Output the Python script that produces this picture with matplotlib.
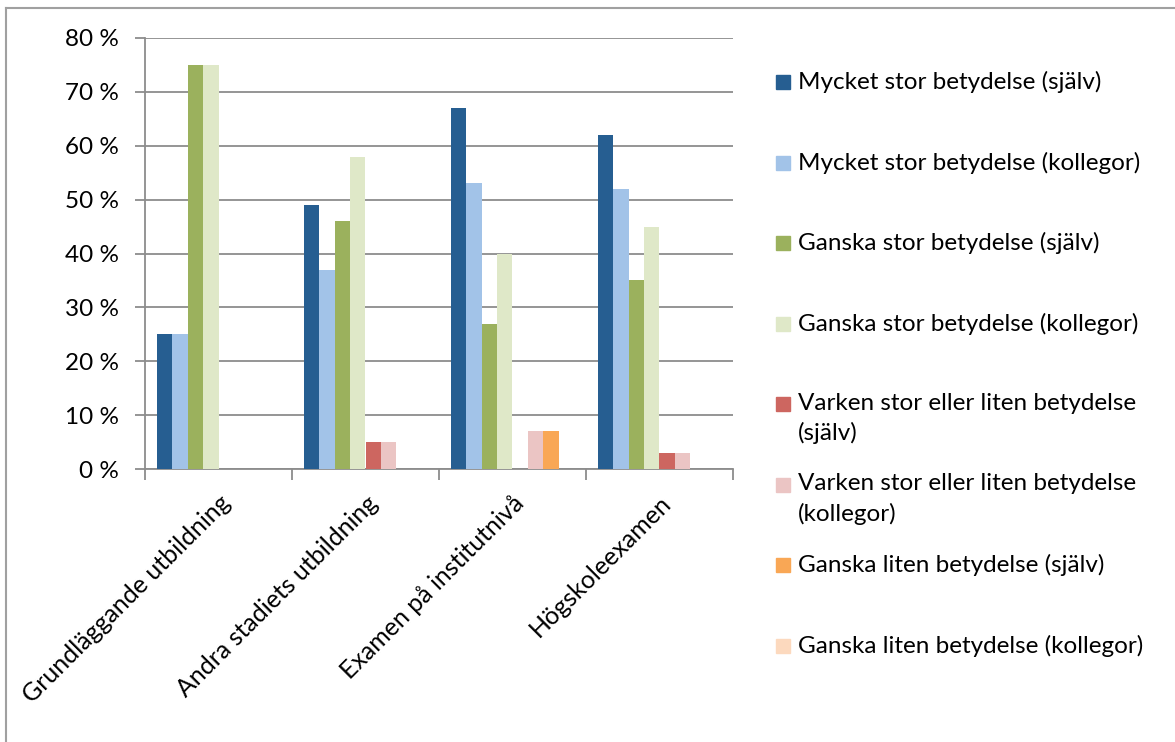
import numpy as np
import matplotlib
matplotlib.use('Agg')
import matplotlib.pyplot as plt
from matplotlib.patches import Rectangle
from matplotlib.lines import Line2D

plt.rcParams['font.family'] = ['Lato', 'DejaVu Sans']

categories = ['Grundläggande utbildning', 'Andra stadiets utbildning',
              'Examen på institutnivå', 'Högskoleexamen']

series_names = ['Mycket stor betydelse (själv)',
                'Mycket stor betydelse (kollegor)',
                'Ganska stor betydelse (själv)',
                'Ganska stor betydelse (kollegor)',
                'Varken stor eller liten betydelse\n(själv)',
                'Varken stor eller liten betydelse\n(kollegor)',
                'Ganska liten betydelse (själv)',
                'Ganska liten betydelse (kollegor)']

mycket_sjalv = [25, 49, 67, 62]
mycket_kollegor = [25, 37, 53, 52]
ganska_stor_sjalv = [75, 46, 27, 35]
ganska_stor_kollegor = [75, 58, 40, 45]
varken_sjalv = [0, 5, 0, 3]
varken_kollegor = [0, 5, 7, 3]
ganska_liten_sjalv = [0, 0, 7, 0]
ganska_liten_kollegor = [0, 0, 0, 0]

series = [mycket_sjalv, mycket_kollegor, ganska_stor_sjalv, ganska_stor_kollegor,
          varken_sjalv, varken_kollegor, ganska_liten_sjalv, ganska_liten_kollegor]

colors = ['#265E91', '#A2C3E8', '#9BB15D', '#DFE8C8',
          '#CD6660', '#EBC5C4', '#F9A755', '#FCD9BE']

W, H = 1175, 742
fs = 17.5
fig = plt.figure(figsize=(W / 100, H / 100), dpi=100)
ax = fig.add_axes([145 / W, (H - 469) / H, (733 - 145) / W, (469 - 38) / H])

grid_c = '#8C8C8C'
x = np.arange(len(categories))
bw = 0.105
start = -0.5 + 0.08
for k, (vals, col) in enumerate(zip(series, colors)):
    ax.bar(x + start + bw * (k + 0.5), vals, width=bw, color=col,
           edgecolor='none', zorder=3)

ax.set_xlim(-0.5, len(categories) - 0.5)
ax.set_ylim(0, 80)
ax.set_yticks(np.arange(0, 81, 10))
ax.set_yticklabels(['%d %%' % v for v in range(0, 81, 10)], fontsize=fs)
ax.yaxis.grid(True, color=grid_c, linewidth=1.3, zorder=0)
ax.tick_params(axis='y', length=7, width=1.3, color=grid_c, pad=12)

ax.set_xticks(x)
ax.set_xticklabels(categories, rotation=45, ha='right', va='top',
                   rotation_mode='anchor', fontsize=18)
ax.tick_params(axis='x', length=0, pad=16)
ax.set_xticks(np.arange(-0.5, len(categories), 1), minor=True)
ax.tick_params(axis='x', which='minor', length=8, width=1.3, color=grid_c)

for s in ['top', 'right']:
    ax.spines[s].set_visible(False)
for s in ['left', 'bottom']:
    ax.spines[s].set_color(grid_c)
    ax.spines[s].set_linewidth(1.3)

# legend, Excel style with even spacing
y0, step = 82, 80.5
for k, (name, col) in enumerate(zip(series_names, colors)):
    yc = y0 + step * k
    fig.patches.append(Rectangle((776 / W, 1 - (yc + 7) / H), 14 / W, 14 / H,
                                 transform=fig.transFigure, color=col))
    fig.text(798 / W, 1 - (yc - 11) / H, name, fontsize=fs, va='top',
             ha='left', linespacing=1.45)

# outer chart frame (top and left visible)
fig.add_artist(Line2D([6 / W, 6 / W], [0, 1 - 8 / H], color='#A0A0A0',
                      linewidth=1.5, transform=fig.transFigure))
fig.add_artist(Line2D([6 / W, 1], [1 - 8 / H, 1 - 8 / H], color='#A0A0A0',
                      linewidth=1.5, transform=fig.transFigure))

fig.savefig('out.png', dpi=100)
